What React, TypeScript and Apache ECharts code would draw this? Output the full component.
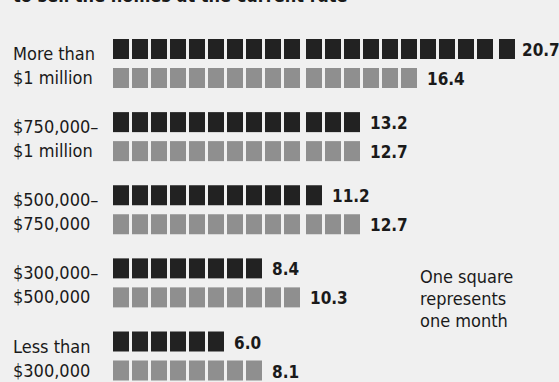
import React, { useEffect, useRef } from "react";
import * as echarts from "echarts";

const categories = [
  "More than\n$1 million",
  "$750,000–\n$1 million",
  "$500,000–\n$750,000",
  "$300,000–\n$500,000",
  "Less than\n$300,000",
];
const darkValues = [20.7, 13.2, 11.2, 8.4, 6.0];
const grayValues = [16.4, 12.7, 12.7, 10.3, 8.1];
const titleText = "to sell the homes at the current rate";
const noteText = "One square\nrepresents\none month";

const FONT = "'DejaVu Sans Condensed', 'DejaVu Sans', sans-serif";
const TEXT_COLOR = "#1a1a1a";

function makeRenderItem(color: string, rowOffset: number) {
  return (params: any, api: any) => {
    const v = api.value(0);
    const cat = api.value(1);
    const n = Math.round(v);
    const unit = api.size([1, 0])[0];
    const w = unit - 3;
    const h = 20;
    const cy = api.coord([0, cat])[1] + rowOffset;
    const children: any[] = [];
    let end = api.coord([0, cat])[0];
    for (let i = 0; i < n; i++) {
      const x = api.coord([i, cat])[0] + 3 * Math.floor(i / 10);
      children.push({
        type: "rect",
        shape: { x, y: cy - h / 2, width: w, height: h },
        style: { fill: color },
      });
      end = x + w;
    }
    children.push({
      type: "text",
      x: Math.min(end + 10, api.getWidth() - 37),
      y: cy + 1,
      style: {
        text: v.toFixed(1),
        fill: TEXT_COLOR,
        font: `bold 17px ${FONT}`,
        verticalAlign: "middle",
        align: "left",
      },
    });
    return { type: "group", children };
  };
}

export default function App() {
  const ref = useRef<HTMLDivElement>(null);
  useEffect(() => {
    if (!ref.current) return;
    const chart = echarts.init(ref.current, undefined, { renderer: "svg" });
    chart.setOption({
      animation: false,
      backgroundColor: "#f0f0f0",
      grid: { left: 113, right: 9, top: 65.5, bottom: 20.5 },
      xAxis: {
        type: "value",
        min: 0,
        max: 23,
        show: false,
      },
      yAxis: {
        type: "category",
        data: categories,
        inverse: true,
        boundaryGap: false,
        axisLine: { show: false },
        axisTick: { show: false },
        splitLine: { show: false },
        axisLabel: {
          align: "left",
          margin: 100,
          color: TEXT_COLOR,
          fontFamily: FONT,
          fontSize: 18,
          lineHeight: 24,
          verticalAlign: "middle",
        },
      },
      graphic: [
        {
          type: "text",
          left: 13,
          top: -14,
          style: {
            text: titleText,
            fill: TEXT_COLOR,
            font: `bold 18px ${FONT}`,
          },
        },
        {
          type: "text",
          left: 420,
          top: 265,
          style: {
            text: noteText,
            fill: TEXT_COLOR,
            font: `18px ${FONT}`,
            lineHeight: 22,
          },
        },
      ],
      series: [
        {
          type: "custom",
          name: "dark",
          renderItem: makeRenderItem("#222222", -16.5),
          data: darkValues.map((v, i) => [v, i]),
          encode: { x: 0, y: 1 },
        },
        {
          type: "custom",
          name: "gray",
          renderItem: makeRenderItem("#8f8f8f", 12.5),
          data: grayValues.map((v, i) => [v, i]),
          encode: { x: 0, y: 1 },
        },
      ],
    });
    return () => chart.dispose();
  }, []);
  return (
    <div
      ref={ref}
      style={{ position: "fixed", left: 0, top: 0, width: 559, height: 382 }}
    />
  );
}
